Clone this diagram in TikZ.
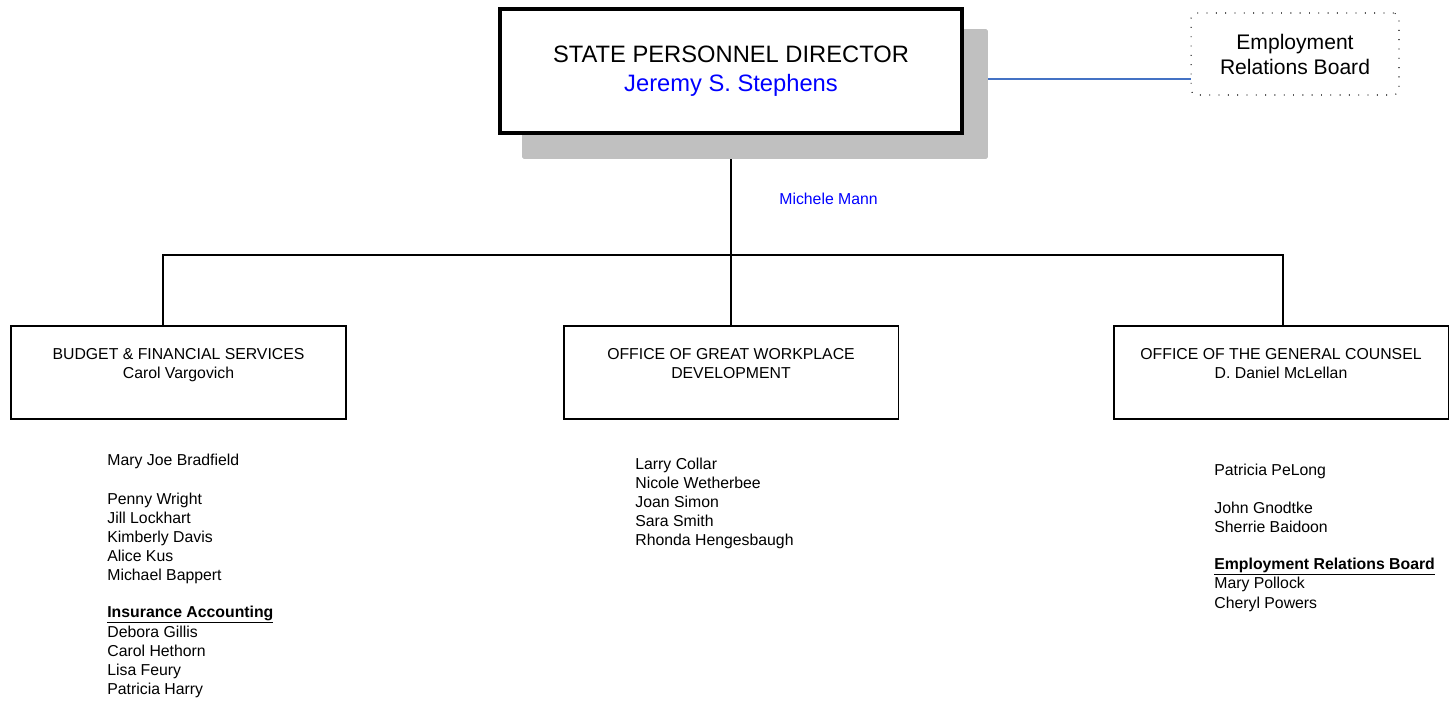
\documentclass[tikz,border=0pt]{standalone}
\usepackage{fontspec}
\setmainfont{Liberation Sans}

\definecolor{linkblue}{HTML}{4472C4}
\definecolor{shadowgray}{HTML}{C0C0C0}
\definecolor{nameblue}{HTML}{0000FF}

\tikzset{
    dirbox/.style={draw, line width=2.2pt, fill=white, minimum width=9.24cm, minimum height=2.48cm,
            align=center, font=\fontsize{13.5}{16.4}\selectfont},
    shadowbox/.style={fill=shadowgray, rounded corners=1pt, minimum width=9.32cm, minimum height=2.6cm, inner sep=0pt},
    unitbox/.style={draw, line width=1.1pt, minimum width=6.7cm, minimum height=1.86cm,
            align=center, font=\fontsize{9}{10.8}\selectfont},
    boardbox/.style={draw, dash pattern=on 0.5pt off 4.8pt, line width=0.6pt, rounded corners=3pt,
            minimum width=4.16cm, minimum height=1.64cm, align=center, font=\fontsize{12}{14.2}\selectfont},
    staff/.style={anchor=base west, inner sep=0pt, font=\fontsize{9}{10.8}\selectfont},
    link/.style={line width=1.1pt}
}

\begin{document}
\begin{tikzpicture}[x=0.02cm, y=-0.02cm]
    \useasboundingbox (0, 0) rectangle (1449, 702);

    % Director with its shadow
    \node[shadowbox] (dirshadow) at (755, 94) {};
    \node[dirbox] (dir) at (731, 71) {STATE PERSONNEL DIRECTOR\\\textcolor{nameblue}{Jeremy S. Stephens}};

    \node[boardbox] (erb) at (1295, 54) {Employment\\Relations Board};
    \coordinate (erblink) at (erb.west |- 0, 79);
    \draw[linkblue, line width=0.8pt] (erblink -| dirshadow.east) -- (erblink);

    \node[staff, text=nameblue] (assistant) at (779, 205) {Michele Mann};

    % Units
    \node[unitbox] (bfs) at (178.5, 372.5) {BUDGET \& FINANCIAL SERVICES\\Carol Vargovich\\\mbox{}};
    \node[unitbox] (ogw) at (731, 372.5) {OFFICE OF GREAT WORKPLACE\\DEVELOPMENT\\\mbox{}};
    \node[unitbox] (ogc) at (1281, 372.5) {OFFICE OF THE GENERAL COUNSEL\\D. Daniel McLellan\\\mbox{}};

    \coordinate (bus) at (731, 255);
    \coordinate (bfsdrop) at (163, 255);
    \coordinate (ogcdrop) at (1283, 255);

    \draw[link] (dir.south |- dirshadow.south) -- (bus) -- (bus |- ogw.north);
    \draw[link] (bfsdrop |- bfs.north) -- (bfsdrop) -- (ogcdrop) -- (ogcdrop |- ogc.north);

    % Staff lists
    \foreach \y/\who [count=\i] in {465/Mary Joe Bradfield, 504/Penny Wright, 523/Jill Lockhart,
            542/Kimberly Davis, 561/Alice Kus, 580/Michael Bappert,
            617/\underline{\textbf{Insurance Accounting}}, 637/Debora Gillis, 656/Carol Hethorn,
            675/Lisa Feury, 694/Patricia Harry} {
            \node[staff] (bfs-\i) at (107, \y) {\who};
        }

    \foreach \y/\who [count=\i] in {469/Larry Collar, 488/Nicole Wetherbee, 507/Joan Simon,
            526/Sara Smith, 545/Rhonda Hengesbaugh} {
            \node[staff] (ogw-\i) at (635, \y) {\who};
        }

    \foreach \y/\who [count=\i] in {475/Patricia PeLong, 513/John Gnodtke, 532/Sherrie Baidoon,
            569/\underline{\textbf{Employment Relations Board}}, 588/Mary Pollock, 608/Cheryl Powers} {
            \node[staff] (ogc-\i) at (1214, \y) {\who};
        }
\end{tikzpicture}
\end{document}
